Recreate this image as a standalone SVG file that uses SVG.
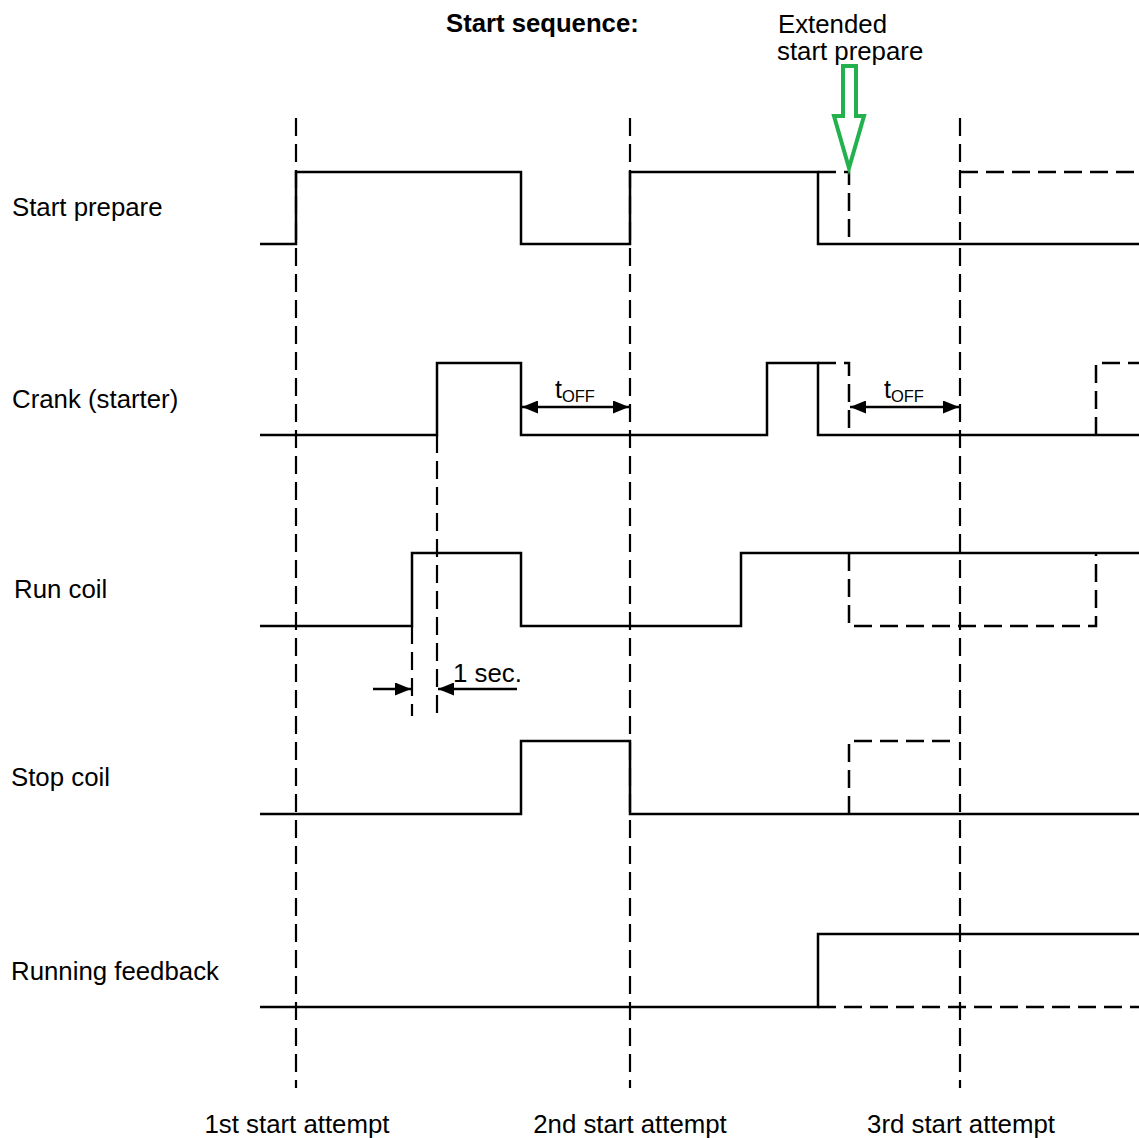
<svg xmlns="http://www.w3.org/2000/svg" width="1139" height="1138" viewBox="0 0 1139 1138">
<style>
text{font-family:"Liberation Sans",Arial,sans-serif;fill:#000}
.lbl{font-size:25.8px}
.ttl{font-size:25.7px;font-weight:bold}
.sig{fill:none;stroke:#000;stroke-width:2.5}
.dsh{fill:none;stroke:#000;stroke-width:2.5;stroke-dasharray:18 8}
.grid{fill:none;stroke:#000;stroke-width:2.2;stroke-dasharray:18 8}
.arr{fill:none;stroke:#000;stroke-width:2.5}
.sub{font-size:16.5px}
</style>
<defs>
<marker id="ah" viewBox="0 0 16 13" refX="16" refY="6.5" markerWidth="16" markerHeight="13" markerUnits="userSpaceOnUse" orient="auto-start-reverse">
<path d="M0,0 L16,6.5 L0,13 Z" fill="#000"/>
</marker>
</defs>
<rect width="1139" height="1138" fill="#fff"/>

<g id="title">
<text class="ttl" x="446" y="32">Start sequence:</text>
</g>

<g id="guides">
<line class="grid" x1="296" y1="118" x2="296" y2="1088"/>
<line class="grid" x1="630" y1="118" x2="630" y2="1088"/>
<line class="grid" x1="960" y1="118" x2="960" y2="1088"/>
<line class="grid" x1="412" y1="626" x2="412" y2="716"/>
<line class="grid" x1="437" y1="435" x2="437" y2="718"/>
</g>

<g id="start-prepare">
<text class="lbl" x="12" y="216">Start prepare</text>
<path class="sig" d="M260,244 H296 V172 H521 V244 H630 V172 H818 V244 H1139"/>
<path class="dsh" d="M818,172 H849 V244"/>
<path class="dsh" d="M960,172 H1139"/>
</g>

<g id="crank">
<text class="lbl" x="12" y="408">Crank (starter)</text>
<path class="sig" d="M260,435 H437 V363 H521 V435 H767 V363 H818 V435 H1139"/>
<path class="dsh" d="M818,363 H849 V435"/>
<path class="dsh" d="M1096,435 V363 H1139"/>
</g>

<g id="run-coil">
<text class="lbl" x="14" y="598">Run coil</text>
<path class="sig" d="M260,626 H412 V553 H521 V626 H741 V553 H1139"/>
<path class="dsh" d="M849,553 V626 H1096 V553"/>
</g>

<g id="stop-coil">
<text class="lbl" x="11" y="786">Stop coil</text>
<path class="sig" d="M260,814 H521 V741 H630 V814 H1139"/>
<path class="dsh" d="M849,814 V741 H955"/>
</g>

<g id="running-feedback">
<text class="lbl" x="11" y="980">Running feedback</text>
<path class="sig" d="M260,1007 H818 V934 H1139"/>
<path class="dsh" d="M818,1007 H1139"/>
</g>

<g id="connectors">
<line class="arr" x1="522" y1="407" x2="629" y2="407" marker-start="url(#ah)" marker-end="url(#ah)"/>
<line class="arr" x1="850" y1="407" x2="959" y2="407" marker-start="url(#ah)" marker-end="url(#ah)"/>
<line class="arr" x1="373" y1="689" x2="411" y2="689" marker-end="url(#ah)"/>
<line class="arr" x1="517" y1="689" x2="438" y2="689" marker-end="url(#ah)"/>
<path d="M843,66 H856 V116 H864 L849,168 L834,116 H843 Z" fill="#fff" stroke="#22b14c" stroke-width="4" stroke-linejoin="miter"/>
</g>

<g id="toff-1">
<text x="555" y="398" style="font-size:25px">t<tspan class="sub" dy="4">OFF</tspan></text>
</g>
<g id="toff-2">
<text x="884" y="398" style="font-size:25px">t<tspan class="sub" dy="4">OFF</tspan></text>
</g>
<g id="one-sec">
<text class="lbl" x="453" y="682">1 sec.</text>
</g>
<g id="extended">
<text class="lbl" x="778" y="33">Extended</text>
<text class="lbl" x="777" y="60">start prepare</text>
</g>

<g id="attempts">
<text class="lbl" x="297" y="1133" text-anchor="middle">1st start attempt</text>
<text class="lbl" x="630" y="1133" text-anchor="middle">2nd start attempt</text>
<text class="lbl" x="961" y="1133" text-anchor="middle">3rd start attempt</text>
</g>
</svg>
